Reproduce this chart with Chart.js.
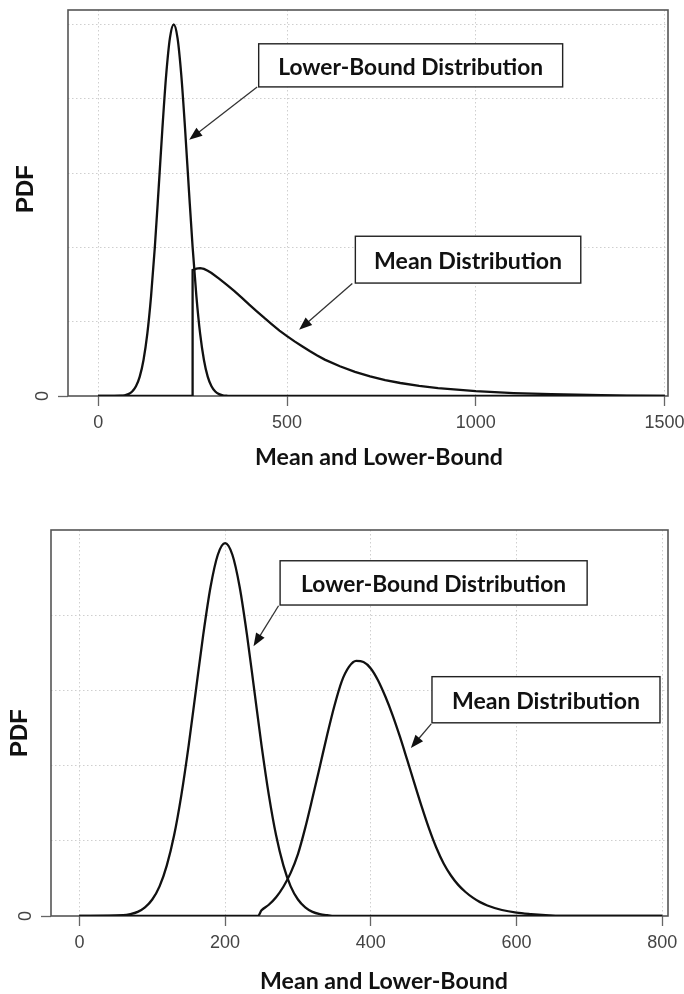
<!DOCTYPE html>
<html>
<head>
<meta charset="utf-8">
<script src="https://cdn.jsdelivr.net/npm/chart.js@4.4.1/dist/chart.umd.min.js"></script>
<style>
  html, body { margin: 0; padding: 0; background: #fff; }
  #wrap { position: relative; width: 684px; height: 994px; }
  canvas { position: absolute; left: 0; }
  #pdf-top { top: 0; }
  #pdf-bottom { top: 480px; }
</style>
</head>
<body>
<div id="wrap">
  <canvas id="pdf-top" width="684" height="480"></canvas>
  <canvas id="pdf-bottom" width="684" height="514"></canvas>
</div>
<script>
// ---- upper panel: lower bound vs. truncated mean (mean support starts at 250) ----
const lowerTopX = [0, 60, 70, 80, 90, 100, 110, 120, 130, 140, 150, 160, 170, 180, 190, 200,
  210, 220, 230, 240, 250, 260, 270, 280, 290, 300, 310, 320, 330, 340, 350, 1500];
const lowerTopY = [0, 0.00001, 0.00002, 0.00005, 0.00012, 0.00026, 0.00052, 0.00097, 0.00167, 0.00269,
  0.00401, 0.00558, 0.00720, 0.00864, 0.00964, 0.01000, 0.00964, 0.00864, 0.00720, 0.00558,
  0.00401, 0.00269, 0.00167, 0.00097, 0.00052, 0.00026, 0.00012, 0.00005, 0.00002, 0.00001, 0, 0];

const meanTopX = [0, 250, 250, 260, 270, 280, 290, 300, 320, 340, 360, 380, 400, 420, 440, 460,
  480, 500, 520, 540, 560, 580, 600, 640, 680, 720, 760, 800, 850, 900, 950, 1000,
  1100, 1200, 1300, 1400, 1500];
const meanTopY = [0, 0, 0.00339, 0.00343, 0.00344, 0.00342, 0.00337, 0.00331, 0.00316, 0.00300,
  0.00283, 0.00265, 0.00246, 0.00228, 0.00210, 0.00193, 0.00176, 0.00161, 0.00147, 0.00134,
  0.00121, 0.00109, 0.00098, 0.00080, 0.00065, 0.00053, 0.00043, 0.00035, 0.00027, 0.00021,
  0.00017, 0.00013, 0.00008, 0.00005, 0.00003, 0.00001, 0];

const xTicksTop = [0, 500, 1000, 1500];
const yGridTop = [0, 0.002, 0.004, 0.006, 0.008, 0.010];

// ---- lower panel: both densities untruncated ----
const lowerBotX = [0, 60, 70, 80, 90, 100, 110, 120, 130, 140, 150, 160, 170, 180, 190, 200,
  210, 220, 230, 240, 250, 260, 270, 280, 290, 300, 310, 320, 330, 340, 350, 800];
const lowerBotY = [0, 0.00002, 0.00005, 0.00011, 0.00023, 0.00044, 0.00079, 0.00135, 0.00215, 0.00323,
  0.00455, 0.00603, 0.00750, 0.00877, 0.00963, 0.00994, 0.00963, 0.00877, 0.00750, 0.00603,
  0.00455, 0.00323, 0.00215, 0.00135, 0.00079, 0.00044, 0.00023, 0.00011, 0.00005, 0.00002, 0, 0];

const meanBotX = [0, 245, 250, 260, 270, 280, 290, 300, 310, 320, 330, 340, 350, 360, 370, 380,
  390, 400, 410, 420, 430, 440, 450, 460, 470, 480, 490, 500, 510, 520, 530, 540,
  550, 560, 580, 600, 620, 640, 660, 800];
const meanBotY = [0, 0, 0.00015, 0.00030, 0.00050, 0.00078, 0.00115, 0.00165, 0.00235, 0.00315,
  0.00398, 0.00482, 0.00560, 0.00625, 0.00664, 0.00680, 0.00677, 0.00660, 0.00628, 0.00585,
  0.00535, 0.00478, 0.00416, 0.00353, 0.00291, 0.00233, 0.00182, 0.00140, 0.00108, 0.00083,
  0.00064, 0.00049, 0.00037, 0.00028, 0.00016, 0.00009, 0.00005, 0.00002, 0, 0];

const xTicksBot = [0, 200, 400, 600, 800];
const yGridBot = [0, 0.002, 0.004, 0.006, 0.008];

const TICK_FONT = { family: "'Liberation Sans', Arial, sans-serif", size: 18 };
const NOTE_FONT = "bold 23px Lato, 'Open Sans', sans-serif";

const pts = (xs, ys) => xs.map((x, i) => ({ x, y: ys[i] }));

// text squeezed horizontally to a given width (narrow bold labels)
function squeezed(ctx, text, cx, cy, width) {
  ctx.save();
  ctx.font = NOTE_FONT;
  const w = ctx.measureText(text).width;
  ctx.translate(cx, cy);
  ctx.scale(width / w, 1);
  ctx.textAlign = 'center';
  ctx.textBaseline = 'middle';
  ctx.fillStyle = '#111';
  ctx.fillText(text, 0, 0);
  ctx.restore();
}

function arrow(ctx, x0, y0, x1, y1) {
  const ang = Math.atan2(y1 - y0, x1 - x0);
  const len = 13, half = 5;
  ctx.save();
  ctx.strokeStyle = '#333';
  ctx.fillStyle = '#111';
  ctx.lineWidth = 1.3;
  ctx.beginPath();
  ctx.moveTo(x0, y0);
  ctx.lineTo(x1 - Math.cos(ang) * len * 0.8, y1 - Math.sin(ang) * len * 0.8);
  ctx.stroke();
  ctx.beginPath();
  ctx.moveTo(x1, y1);
  ctx.lineTo(x1 - Math.cos(ang) * len - Math.sin(ang) * half, y1 - Math.sin(ang) * len + Math.cos(ang) * half);
  ctx.lineTo(x1 - Math.cos(ang) * len + Math.sin(ang) * half, y1 - Math.sin(ang) * len - Math.cos(ang) * half);
  ctx.closePath();
  ctx.fill();
  ctx.restore();
}

// plot frame, boxed callouts with arrows, axis titles
const callouts = {
  id: 'callouts',
  beforeDatasetsDraw(chart) {
    const { ctx, chartArea: a } = chart;
    ctx.save();
    ctx.strokeStyle = '#555';
    ctx.lineWidth = 1.6;
    ctx.strokeRect(a.left, a.top, a.right - a.left, a.bottom - a.top);
    ctx.restore();
  },
  afterDatasetsDraw(chart, args, opts) {
    const { ctx, scales: { x, y } } = chart;
    (opts.notes || []).forEach(n => {
      const bx0 = x.getPixelForValue(n.box[0]), by0 = y.getPixelForValue(n.box[1]);
      const bx1 = x.getPixelForValue(n.box[2]), by1 = y.getPixelForValue(n.box[3]);
      ctx.save();
      ctx.fillStyle = '#fff';
      ctx.fillRect(bx0, by0, bx1 - bx0, by1 - by0);
      ctx.strokeStyle = '#222';
      ctx.lineWidth = 1.4;
      ctx.strokeRect(bx0, by0, bx1 - bx0, by1 - by0);
      ctx.restore();
      squeezed(ctx, n.text, (bx0 + bx1) / 2, (by0 + by1) / 2 + 2, n.width);
      arrow(ctx, x.getPixelForValue(n.from[0]), y.getPixelForValue(n.from[1]),
        x.getPixelForValue(n.to[0]), y.getPixelForValue(n.to[1]));
    });
    const t = opts.xTitle;
    squeezed(ctx, t.text, t.x, t.y, t.width);
    const p = opts.yTitle;
    ctx.save();
    ctx.translate(p.x, p.y);
    ctx.rotate(-Math.PI / 2);
    ctx.font = "bold 24px 'Liberation Sans', Arial, sans-serif";
    ctx.textAlign = 'center';
    ctx.textBaseline = 'middle';
    ctx.fillStyle = '#111';
    ctx.fillText(p.text, 0, 0);
    ctx.restore();
  }
};

function curve(label, data, smooth) {
  return {
    label, data,
    borderColor: '#111',
    borderWidth: 2.3,
    pointRadius: 0,
    fill: false,
    tension: 0,
    cubicInterpolationMode: smooth ? 'monotone' : 'default',
  };
}

// keep the plot box where it is: no extra room for overhanging tick labels
function noOverhang(axis) {
  axis.paddingTop = 0;
  axis.paddingBottom = 0;
  axis.paddingLeft = 0;
  axis.paddingRight = 0;
}

function makePanel(id, cfg) {
  return new Chart(document.getElementById(id), {
    type: 'line',
    data: { datasets: cfg.datasets },
    options: {
      responsive: false,
      animation: false,
      devicePixelRatio: 1,
      layout: { padding: { top: cfg.padTop, right: 16, left: 0, bottom: 0 } },
      plugins: {
        legend: { display: false },
        tooltip: { enabled: false },
        callouts: { notes: cfg.notes, xTitle: cfg.xTitle, yTitle: cfg.yTitle },
      },
      scales: {
        x: {
          type: 'linear',
          min: cfg.xMin, max: cfg.xMax,
          afterBuildTicks: axis => { axis.ticks = cfg.xTicks.map(v => ({ value: v })); },
          afterFit: axis => { axis.height = cfg.xAxisH; noOverhang(axis); },
          ticks: { color: '#444', font: TICK_FONT, padding: 6, maxRotation: 0, callback: v => String(v) },
          grid: { color: '#cfcfcf', lineWidth: 1, tickColor: '#666', tickLength: 10, tickWidth: 1.3 },
          border: { display: false, dash: [1.5, 2.5] },
        },
        y: {
          min: 0, max: cfg.yMax,
          afterBuildTicks: axis => { axis.ticks = cfg.yGrid.map(v => ({ value: v })); },
          afterFit: axis => { axis.width = cfg.yAxisW; noOverhang(axis); },
          ticks: {
            color: '#444', font: TICK_FONT, padding: 10,
            minRotation: 90, maxRotation: 90, crossAlign: 'center',
            callback: v => (v === 0 ? '0' : ''),
          },
          grid: {
            color: c => (c.tick && c.tick.value === 0 ? 'rgba(0,0,0,0)' : '#cfcfcf'),
            tickColor: c => (c.tick && c.tick.value === 0 ? '#666' : 'rgba(0,0,0,0)'),
            lineWidth: 1, tickLength: 10, tickWidth: 1.3,
          },
          border: { display: false, dash: [1.5, 2.5] },
        },
      },
    },
    plugins: [callouts],
  });
}

makePanel('pdf-top', {
  datasets: [
    curve('Lower-Bound Distribution', pts(lowerTopX, lowerTopY), true),
    curve('Mean Distribution', pts(meanTopX, meanTopY), false),
  ],
  xMin: -80, xMax: 1509, yMax: 0.01039,
  xTicks: xTicksTop, yGrid: yGridTop,
  padTop: 10, xAxisH: 84, yAxisW: 68,
  notes: [
    { text: 'Lower-Bound Distribution', box: [425, 0.00948, 1230, 0.00832], from: [421, 0.00832], to: [241, 0.0069], width: 265 },
    { text: 'Mean Distribution', box: [681, 0.00430, 1278, 0.00304], from: [673, 0.00303], to: [532, 0.00178], width: 188 },
  ],
  xTitle: { text: 'Mean and Lower-Bound', x: 379, y: 458, width: 248 },
  yTitle: { text: 'PDF', x: 26, y: 189 },
});

makePanel('pdf-bottom', {
  datasets: [
    curve('Lower-Bound Distribution', pts(lowerBotX, lowerBotY), true),
    curve('Mean Distribution', pts(meanBotX, meanBotY), true),
  ],
  xMin: -39, xMax: 808, yMax: 0.01029,
  xTicks: xTicksBot, yGrid: yGridBot,
  padTop: 50, xAxisH: 78, yAxisW: 51,
  notes: [
    { text: 'Lower-Bound Distribution', box: [275.5, 0.00947, 697, 0.00829], from: [273.4, 0.00827], to: [239, 0.00719], width: 265 },
    { text: 'Mean Distribution', box: [484, 0.00638, 797, 0.00515], from: [483, 0.00512], to: [455, 0.00448], width: 188 },
  ],
  xTitle: { text: 'Mean and Lower-Bound', x: 384, y: 502, width: 248 },
  yTitle: { text: 'PDF', x: 20, y: 253 },
});
</script>
</body>
</html>
